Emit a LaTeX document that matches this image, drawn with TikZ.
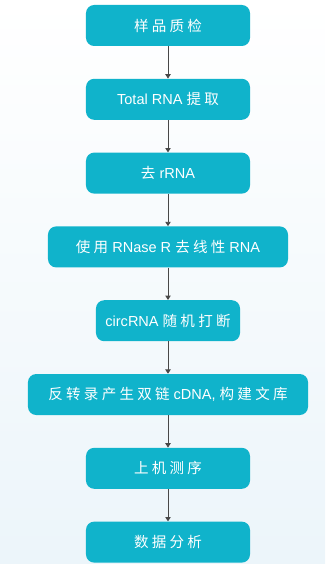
\documentclass[tikz,border=0pt]{standalone}
\usepackage{fontspec}
\setmainfont{Liberation Sans}
\newfontfamily\zhfont{Noto Sans CJK SC}
\newcommand{\zh}[1]{{\zhfont #1}}
\usetikzlibrary{arrows.meta,positioning}
\definecolor{seqTeal}{RGB}{16,179,203}
\definecolor{seqGrey}{RGB}{72,72,72}
\definecolor{seqBack}{RGB}{236,245,250}
\tikzset{
  stepbox/.style={
    rectangle, rounded corners=7pt, fill=seqTeal, text=white, align=center,
    minimum width=4.92cm, minimum height=1.23cm, inner sep=0pt,
    font=\fontsize{12.4}{14}\selectfont},
  widebox/.style={stepbox, minimum width=#1},
  arrowline/.style={-{Triangle[length=1.3mm,width=1.6mm]}, line width=0.75pt, draw=seqGrey}
}

\begin{document}
\begin{tikzpicture}[node distance=0.97cm]

    % ---- background ------------------------------------------------
    \shade[top color=white, bottom color=seqBack] (-5.04,0.765) rectangle (4.71,-16.155);

    % ---- steps -----------------------------------------------------
    \node[stepbox] (qc) {\zh{样 品 质 检}};
    \node[stepbox, below=of qc]           (extract) {Total RNA \zh{提 取}};
    \node[stepbox, below=of extract]      (rrna)    {\zh{去} rRNA};
    \node[widebox=7.2cm, below=of rrna]   (rnase)   {\zh{使 用} RNase R \zh{去 线 性} RNA};
    \node[widebox=4.32cm, below=of rnase] (frag)    {circRNA \zh{随 机 打 断}};
    \node[widebox=8.4cm, below=of frag]   (lib)     {\zh{反 转 录 产 生 双 链} cDNA, \zh{构 建 文 库}};
    \node[stepbox, below=of lib]          (seq)     {\zh{上 机 测 序}};
    \node[stepbox, below=of seq]          (ana)     {\zh{数 据 分 析}};

    % ---- arrows ----------------------------------------------------
    \draw[arrowline] (qc)      -- (extract);
    \draw[arrowline] (extract) -- (rrna);
    \draw[arrowline] (rrna)    -- (rnase);
    \draw[arrowline] (rnase)   -- (frag);
    \draw[arrowline] (frag)    -- (lib);
    \draw[arrowline] (lib)     -- (seq);
    \draw[arrowline] (seq)     -- (ana);

\end{tikzpicture}
\end{document}
